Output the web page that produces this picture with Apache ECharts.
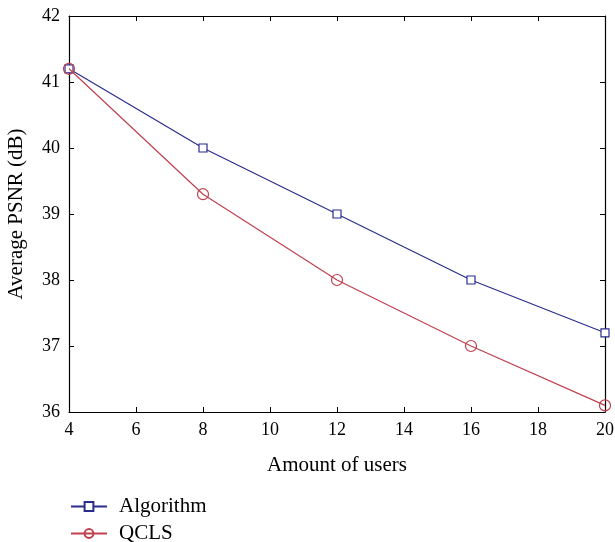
<!DOCTYPE html>
<html>
<head>
<meta charset="utf-8">
<script src="https://cdn.jsdelivr.net/npm/echarts@6/dist/echarts.min.js"></script>
<style>
  html, body { margin: 0; padding: 0; background: #fff; }
  #chart { width: 615px; height: 542px; }
</style>
</head>
<body>
<div id="chart"></div>
<script>
var users = [4, 8, 12, 16, 20];
var algorithm = [41.2, 40.0, 39.0, 38.0, 37.2];
var qcls = [41.2, 39.3, 38.0, 37.0, 36.1];

function pairs(xs, ys) {
    return xs.map(function (x, i) { return [x, ys[i]]; });
}

document.addEventListener('DOMContentLoaded', function () {
    var myChart = echarts.init(document.getElementById('chart'));
    var font = 'Liberation Serif';
    var axisLine = { show: true, lineStyle: { color: '#000', width: 1.2 } };
    var tick = { show: true, inside: true, length: 5, lineStyle: { color: '#000' } };
    var legendText = { color: '#000', fontFamily: font, fontSize: 21, padding: [0, 0, 0, 7] };

    var option = {
        animation: false,
        textStyle: { fontFamily: font },
        grid: { left: 69, right: 10, top: 16, bottom: 130, outerBoundsMode: 'none' },
        legend: [
            {
                top: 491, left: 65, itemWidth: 36, itemHeight: 11,
                textStyle: legendText,
                data: ['Algorithm']
            },
            {
                top: 518, left: 65, itemWidth: 36, itemHeight: 11,
                textStyle: legendText,
                data: ['QCLS']
            }
        ],
        xAxis: [
            {
                type: 'value', min: 4, max: 20, interval: 2,
                name: 'Amount of users', nameLocation: 'middle', nameGap: 43,
                nameTextStyle: { color: '#000', fontFamily: font, fontSize: 21 },
                axisLine: axisLine, axisTick: tick,
                axisLabel: { margin: 9, color: '#000', fontFamily: font, fontSize: 18 },
                splitLine: { show: false }
            },
            {
                type: 'value', min: 4, max: 20, interval: 2, position: 'top',
                axisLine: axisLine, axisTick: tick,
                axisLabel: { show: false }, splitLine: { show: false }
            }
        ],
        yAxis: [
            {
                type: 'value', min: 36, max: 42, interval: 1,
                name: 'Average PSNR (dB)', nameLocation: 'middle', nameGap: 42,
                nameTextStyle: { color: '#000', fontFamily: font, fontSize: 21 },
                axisLine: axisLine, axisTick: tick,
                axisLabel: { margin: 9, color: '#000', fontFamily: font, fontSize: 18 },
                splitLine: { show: false }
            },
            {
                type: 'value', min: 36, max: 42, interval: 1, position: 'right',
                axisLine: axisLine, axisTick: tick,
                axisLabel: { show: false }, splitLine: { show: false }
            }
        ],
        series: [
            {
                name: 'Algorithm',
                type: 'line',
                data: pairs(users, algorithm),
                symbol: 'rect',
                symbolSize: 8,
                lineStyle: { color: '#2b2d8e', width: 1.2 },
                itemStyle: { color: '#fff', borderColor: '#2b2d8e', borderWidth: 1.2 },
                z: 3
            },
            {
                name: 'QCLS',
                type: 'line',
                data: pairs(users, qcls),
                symbol: 'circle',
                symbolSize: 11,
                lineStyle: { color: '#c0404e', width: 1.2 },
                itemStyle: { color: 'rgba(255,255,255,0)', borderColor: '#c0404e', borderWidth: 1.2 },
                z: 4
            }
        ]
    };

    myChart.setOption(option);
});
</script>
</body>
</html>
